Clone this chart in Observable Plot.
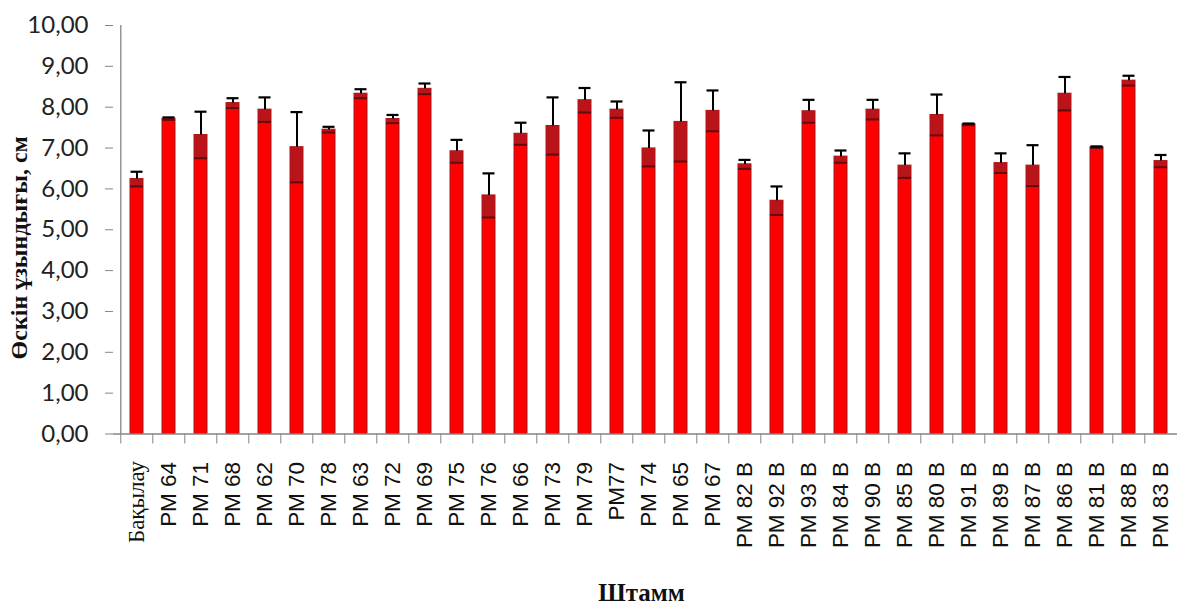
<!DOCTYPE html>
<html>
<head>
<meta charset="utf-8">
<script src="https://cdn.jsdelivr.net/npm/d3@7"></script>
<script src="https://cdn.jsdelivr.net/npm/@observablehq/plot@0.6"></script>
<style>
  html, body { margin: 0; padding: 0; background: #fff; }
  #chart svg { display: block; }
</style>
</head>
<body>
<div id="chart"></div>
<script>
// Strains on the x axis
const strains = [
  "Бақылау", "РМ 64", "РМ 71", "РМ 68", "РМ 62", "РМ 70", "РМ 78", "РМ 63", "РМ 72",
  "РМ 69", "РМ 75", "РМ 76", "РМ 66", "РМ 73", "РМ 79", "РМ77", "РМ 74", "РМ 65",
  "РМ 67", "РМ 82 В", "РМ 92 В", "РМ 93 В", "РМ 84 В", "РМ 90 В", "РМ 85 В", "РМ 80 В",
  "РМ 91 В", "РМ 89 В", "РМ 87 В", "РМ 86 В", "РМ 81 В", "РМ 88 В", "РМ 83 В"
];

// Mean sprout length, cm
const lengths = [
  6.24, 7.72, 7.32, 8.10, 7.94, 7.02, 7.45, 8.33, 7.71,
  8.45, 6.92, 5.84, 7.35, 7.54, 8.17, 7.94, 6.99, 7.64,
  7.91, 6.60, 5.71, 7.90, 6.79, 7.94, 6.57, 7.81,
  7.58, 6.63, 6.57, 8.33, 7.02, 8.65, 6.68
];

// Standard error, cm
const errors = [
  0.18, 0.03, 0.57, 0.12, 0.30, 0.86, 0.07, 0.11, 0.10,
  0.13, 0.28, 0.54, 0.27, 0.70, 0.30, 0.20, 0.44, 0.97,
  0.50, 0.11, 0.35, 0.28, 0.15, 0.24, 0.30, 0.50,
  0.02, 0.24, 0.50, 0.41, 0.02, 0.12, 0.15
];

// Y tick values
const yTicks = [0, 1, 2, 3, 4, 5, 6, 7, 8, 9, 10];

const yTitle = "Өскін ұзындығы, см";
const xTitle = "Штамм";

const rows = strains.map((name, i) => ({name, mean: lengths[i], err: errors[i]}));

const W = 1177, H = 605;
const xRange = [113, 1183];
const step = (xRange[1] - xRange[0]) / strains.length;
const axisGray = "#868686";
const comma2 = d => d.toFixed(2).replace(".", ",");

const chart = Plot.plot({
  width: W,
  height: H,
  marginLeft: 113,
  marginRight: 0,
  marginTop: 25,
  marginBottom: 171.5,
  style: {background: "#fff", overflow: "visible"},
  x: {domain: strains, range: xRange, paddingInner: 0.6, paddingOuter: 0.3, axis: null},
  y: {domain: [0, 10], axis: null},
  marks: [
    // bars
    Plot.barY(rows, {x: "name", y: "mean", fill: "#ff0000", stroke: "#a31b1b", strokeWidth: 1}),
    // shaded lower half of the error range inside each bar
    Plot.rectY(rows, {x: "name", y1: d => d.mean - d.err, y2: "mean", fill: "#b8141a"}),
    Plot.tickY(rows, {x: "name", y: d => d.mean - d.err, stroke: "#5e0c0c", strokeWidth: 2}),
    // upper error bar with cap
    Plot.ruleX(rows, {x: "name", y1: "mean", y2: d => d.mean + d.err, stroke: "#000", strokeWidth: 2}),
    Plot.tickY(rows, {x: "name", y: d => d.mean + d.err, stroke: "#000", strokeWidth: 2.2, insetLeft: 0.5, insetRight: 0.5}),
    // axis lines
    Plot.ruleY([0], {stroke: axisGray, strokeWidth: 1.3}),
    Plot.ruleX([strains[0]], {y1: 0, y2: 10, dx: -step / 2, stroke: axisGray, strokeWidth: 1.3}),
    // y axis
    Plot.axisY({
      ticks: yTicks, tickFormat: comma2, tickSize: 8, tickPadding: 17, label: null,
      stroke: axisGray, color: "#222", fontSize: 24, fontFamily: "Lato"
    }),
    // x ticks on category boundaries
    Plot.axisX({tickSize: 10, tickFormat: null, label: null, dx: -step / 2, stroke: axisGray}),
    // x tick labels
    Plot.text(rows.filter((d, i) => i === 0), {
      x: "name", y: 0, text: "name", rotate: -90, textAnchor: "end", lineAnchor: "middle",
      dy: 27, fontFamily: "Liberation Serif", fontSize: 23, fill: "#111"
    }),
    Plot.text(rows.filter((d, i) => i > 0), {
      x: "name", y: 0, text: "name", rotate: -90, textAnchor: "end", lineAnchor: "middle",
      dy: 28, fontFamily: "Liberation Sans", fontSize: 22.5, fill: "#111"
    }),
    // axis titles
    Plot.text([yTitle], {
      frameAnchor: "left", text: d => d, rotate: -90, dx: -94, dy: 18, textAnchor: "middle",
      fontFamily: "Liberation Serif", fontWeight: "bold", fontSize: 24, fill: "#111"
    }),
    Plot.text([xTitle], {
      frameAnchor: "bottom", text: d => d, dx: -4, dy: 167, lineAnchor: "bottom", textAnchor: "middle",
      fontFamily: "Liberation Serif", fontWeight: "bold", fontSize: 25, fill: "#111"
    })
  ]
});

document.getElementById("chart").appendChild(chart);
</script>
</body>
</html>
